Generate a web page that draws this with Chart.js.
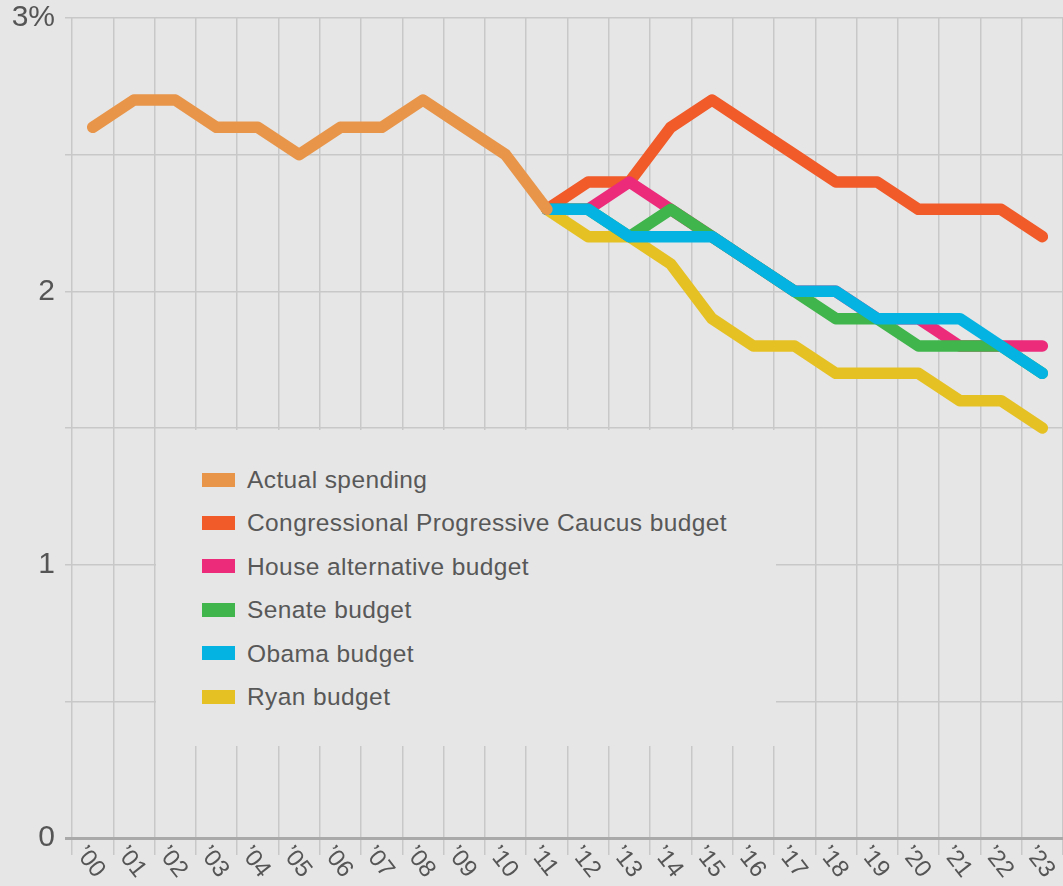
<!DOCTYPE html>
<html>
<head>
<meta charset="utf-8">
<script src="https://cdn.jsdelivr.net/npm/chart.js@4/dist/chart.umd.min.js"></script>
<style>
  html, body { margin: 0; padding: 0; background: #e6e6e6; }
  #wrap { position: relative; width: 1063px; height: 886px; }
  #legend {
    position: absolute; left: 156px; top: 430px; width: 620px; height: 316px;
    background: #e6e6e6; font-family: "Liberation Sans", Arial, sans-serif;
    font-size: 24.5px; letter-spacing: 0.4px; color: #585858;
  }
  .item { position: absolute; left: 46px; height: 30px; line-height: 30px; white-space: nowrap; }
  .sw { display: inline-block; width: 33px; height: 14px; vertical-align: middle; margin-right: 12px; position: relative; top: -2px; }
</style>
</head>
<body>
<div id="wrap">
  <canvas id="chart" width="1063" height="886"></canvas>
  <div id="legend"></div>
</div>
<script>
const years = ['00','01','02','03','04','05','06','07','08','09','10','11',
               '12','13','14','15','16','17','18','19','20','21','22','23'];
const yearLabels = years.map(y => '\u2019' + y);

const pad = Array(11).fill(null);
const actual = [2.6, 2.7, 2.7, 2.6, 2.6, 2.5, 2.6, 2.6, 2.7, 2.6, 2.5, 2.3];
const progressive = [...pad, 2.3, 2.4, 2.4, 2.6, 2.7, 2.6, 2.5, 2.4, 2.4, 2.3, 2.3, 2.3, 2.2];
const houseAlt = [...pad, 2.3, 2.3, 2.4, 2.3, 2.2, 2.1, 2.0, 2.0, 1.9, 1.9, 1.8, 1.8, 1.8];
const senate = [...pad, 2.3, 2.3, 2.2, 2.3, 2.2, 2.1, 2.0, 1.9, 1.9, 1.8, 1.8, 1.8, 1.7];
const obama = [...pad, 2.3, 2.3, 2.2, 2.2, 2.2, 2.1, 2.0, 2.0, 1.9, 1.9, 1.9, 1.8, 1.7];
const ryan = [...pad, 2.3, 2.2, 2.2, 2.1, 1.9, 1.8, 1.8, 1.7, 1.7, 1.7, 1.6, 1.6, 1.5];

const series = [
  { label: 'Actual spending', data: actual, color: '#e8954a', order: 0 },
  { label: 'Congressional Progressive Caucus budget', data: progressive, color: '#f15a29', order: 4 },
  { label: 'House alternative budget', data: houseAlt, color: '#ec2b7b', order: 3 },
  { label: 'Senate budget', data: senate, color: '#3fb54b', order: 2 },
  { label: 'Obama budget', data: obama, color: '#05b3e2', order: 1 },
  { label: 'Ryan budget', data: ryan, color: '#e6c124', order: 5 }
];

// html legend
const legend = document.getElementById('legend');
series.forEach((s, i) => {
  const el = document.createElement('div');
  el.className = 'item';
  el.style.top = (35 + i * 43.4) + 'px';
  el.innerHTML = `<span class="sw" style="background:${s.color}"></span>${s.label}`;
  legend.appendChild(el);
});

const xLabels = {
  id: 'xLabels',
  afterDraw(chart) {
    const ctx = chart.ctx;
    const x = chart.scales.x;
    ctx.save();
    ctx.font = '24px "Liberation Sans", Arial, sans-serif';
    ctx.fillStyle = '#555';
    ctx.textAlign = 'left';
    ctx.textBaseline = 'top';
    yearLabels.forEach((lab, i) => {
      const px = x.getPixelForValue(i);
      ctx.save();
      ctx.translate(px - 3, 842);
      ctx.rotate(52 * Math.PI / 180);
      ctx.fillText(lab, 0, 0);
      ctx.restore();
    });
    ctx.restore();
  }
};

new Chart(document.getElementById('chart'), {
  type: 'line',
  data: {
    labels: yearLabels,
    datasets: series.map(s => ({
      label: s.label,
      data: s.data,
      borderColor: s.color,
      backgroundColor: s.color,
      borderWidth: 11.5,
      borderCapStyle: 'round',
      borderJoinStyle: 'round',
      pointRadius: 0,
      tension: 0,
      order: s.order,
      clip: false
    }))
  },
  options: {
    responsive: false,
    animation: false,
    layout: { padding: { top: 18, right: 0, bottom: 0, left: 0 } },
    plugins: { legend: { display: false }, tooltip: { enabled: false } },
    scales: {
      x: {
        offset: true,
        grid: { offset: true, color: '#c8c8c8', lineWidth: 1.5, tickLength: 17 },
        border: { color: '#a9a9a9', width: 3 },
        ticks: { display: false },
        afterFit: s => { s.height = 48; }
      },
      y: {
        min: 0,
        max: 3,
        grid: {
          color: ctx => ctx.tick && ctx.tick.value === 0 ? '#a9a9a9' : '#c8c8c8',
          lineWidth: ctx => ctx.tick && ctx.tick.value === 0 ? 3 : 1.5,
          tickLength: 7
        },
        border: { display: false },
        ticks: {
          stepSize: 0.5,
          padding: 10,
          color: '#555',
          font: { family: '"Liberation Sans", Arial, sans-serif', size: 30 },
          callback: v => v === 3 ? '3%' : (Number.isInteger(v) ? String(v) : '')
        },
        afterFit: s => { s.width = 72; s.paddingTop = 0; s.paddingBottom = 0; }
      }
    }
  },
  plugins: [xLabels]
});
</script>
</body>
</html>
